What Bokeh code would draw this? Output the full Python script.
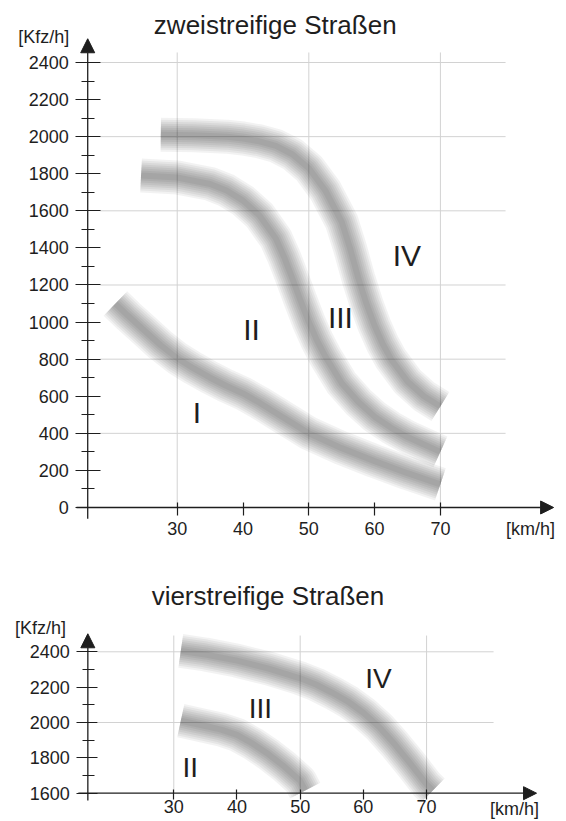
from bokeh.plotting import figure
from bokeh.layouts import column
from bokeh.models import Range1d, LinearAxis, FixedTicker, Arrow, NormalHead, Label
from bokeh.core.properties import value
from bokeh.embed import file_html
from bokeh.resources import INLINE

FONT = "Liberation Sans"
INK = "#1e1e1e"

# ---------------- data: zweistreifige Straßen ----------------
top_title = "zweistreifige Straßen"
speed_ticks = [30, 40, 50, 60, 70]
grid_speeds = [30, 50, 70]
top_flow_ticks = [0, 200, 400, 600, 800, 1000, 1200, 1400, 1600, 1800, 2000, 2200, 2400]
top_flow_minor = [100, 300, 500, 700, 900, 1100, 1300, 1500, 1700, 1900, 2100, 2300]
top_grid_flows = [400, 800, 1200, 1600, 2000, 2400]

top_c1_speed = [20.6, 22.5, 25, 27.5, 30, 32.5, 35, 37.5, 40, 42.5, 45, 47.5, 50, 55, 60, 65, 70]
top_c1_flow = [1100, 1035, 955, 875, 805, 750, 700, 655, 615, 565, 510, 455, 400, 320, 250, 185, 125]
top_c2_speed = [24.5, 30, 35, 37.5, 40, 42.5, 45, 46.25, 47.5, 48.75, 50, 51.25, 52.5, 55,
                57.5, 60, 62.5, 65, 67.5, 70]
top_c2_flow = [1790, 1780, 1745, 1710, 1655, 1575, 1450, 1350, 1235, 1115, 1000, 900, 815, 670,
               570, 490, 430, 380, 340, 300]
top_c3_speed = [27.5, 32.5, 37.5, 40, 42.5, 45, 47.5, 50, 52.5, 55, 56.25, 57.5, 58.75, 60,
                61.25, 62.5, 65, 67.5, 70]
top_c3_flow = [2010, 2008, 2000, 1990, 1975, 1950, 1905, 1830, 1710, 1540, 1400, 1240, 1100, 980,
               880, 800, 680, 600, 545]

top_region_text = ["I", "II", "III", "IV"]
top_region_speed = [33.0, 41.3, 54.8, 64.9]
top_region_flow = [514, 960, 1026, 1359]

# ---------------- data: vierstreifige Straßen ----------------
bot_title = "vierstreifige Straßen"
bot_flow_ticks = [1600, 1800, 2000, 2200, 2400]
bot_flow_minor = [1700, 1900, 2100, 2300]
bot_grid_flows = [2000, 2400]

bot_c1_speed = [31.1, 35, 37.5, 40, 42.5, 45, 47.5, 50, 50.8]
bot_c1_flow = [2010, 1980, 1960, 1930, 1880, 1820, 1750, 1670, 1615]
bot_c2_speed = [31.1, 35, 40, 45, 50, 52.5, 55, 57.5, 60, 62.5, 65, 67.5, 70, 71]
bot_c2_flow = [2405, 2385, 2350, 2305, 2250, 2215, 2170, 2120, 2055, 1975, 1875, 1765, 1650, 1615]

bot_region_text = ["II", "III", "IV"]
bot_region_speed = [32.6, 43.7, 62.4]
bot_region_flow = [1747, 2077, 2247]

unit_y = "[Kfz/h]"
unit_x = "[km/h]"

BAND_WIDTHS = [34, 30, 26, 22, 18, 14, 10, 6]
BAND_ALPHA = 0.05


def band(p, xs, ys):
    for w in BAND_WIDTHS:
        p.line(xs, ys, line_color="black", line_alpha=BAND_ALPHA, line_width=w,
               line_cap="butt", line_join="round")


def make_chart(height, xr, yr, axis_x, x_axis_y, flow_ticks, flow_minor,
               grid_flows, grid_x0, grid_x1, grid_y0, grid_y1,
               y_arrow, x_arrow, tick_sizes, x_standoff):
    p = figure(width=566, height=height, x_range=Range1d(*xr), y_range=Range1d(*yr),
               output_backend="svg", toolbar_location=None,
               x_axis_type=None, y_axis_type=None, min_border=0,
               outline_line_color=None, background_fill_color="white")
    # grid
    p.segment(x0=grid_speeds, x1=grid_speeds, y0=[grid_y0] * len(grid_speeds),
              y1=[grid_y1] * len(grid_speeds), line_color="#d2d2d2", line_width=1)
    p.segment(x0=[grid_x0] * len(grid_flows), x1=[grid_x1] * len(grid_flows),
              y0=grid_flows, y1=grid_flows, line_color="#d2d2d2", line_width=1)

    maj_in, maj_out, min_in, min_out, xt_in, xt_out = tick_sizes
    yax = LinearAxis(fixed_location=axis_x,
                     ticker=FixedTicker(ticks=flow_ticks, minor_ticks=flow_minor),
                     axis_line_color=None,
                     major_tick_in=maj_in, major_tick_out=maj_out,
                     minor_tick_in=min_in, minor_tick_out=min_out,
                     major_tick_line_color=INK, minor_tick_line_color=INK,
                     major_tick_line_width=1.2, minor_tick_line_width=1.2,
                     major_label_standoff=7,
                     major_label_text_font=FONT, major_label_text_font_size="18px",
                     major_label_text_color=INK)
    p.add_layout(yax, "left")
    xax = LinearAxis(fixed_location=x_axis_y,
                     ticker=FixedTicker(ticks=speed_ticks, minor_ticks=[]),
                     axis_line_color=None,
                     major_tick_in=xt_in, major_tick_out=xt_out,
                     minor_tick_line_color=None,
                     major_tick_line_color=INK, major_tick_line_width=1.2,
                     major_label_standoff=x_standoff,
                     major_label_text_font=FONT, major_label_text_font_size="18px",
                     major_label_text_color=INK)
    p.add_layout(xax, "below")

    ys0, ys1, hs = y_arrow
    p.add_layout(Arrow(end=NormalHead(size=hs, fill_color=INK, line_color=INK),
                       x_start=axis_x, y_start=ys0, x_end=axis_x, y_end=ys1,
                       line_color=INK, line_width=1.3))
    xs0, xs1, hx = x_arrow
    p.add_layout(Arrow(end=NormalHead(size=hx, fill_color=INK, line_color=INK),
                       x_start=xs0, y_start=x_axis_y, x_end=xs1, y_end=x_axis_y,
                       line_color=INK, line_width=1.3))
    return p


# ---------------- top chart ----------------
p1 = make_chart(565, (3.146, 89.16), (-312.8, 2734.3), 16.4, 0,
                top_flow_ticks, top_flow_minor, top_grid_flows,
                18.3, 79.9, 0, 2454,
                (-60, 2528, 14), (14.7, 87.2, 13), (13, 12, 7, 6, 5, 8), 7)
band(p1, top_c1_speed, top_c1_flow)
band(p1, top_c2_speed, top_c2_flow)
band(p1, top_c3_speed, top_c3_flow)
p1.text(x=top_region_speed, y=top_region_flow, text=top_region_text,
        text_font=value(FONT), text_font_size="30px", text_color=INK,
        text_align="center", text_baseline="middle")
p1.add_layout(Label(x=44.9, y=2599.5, text=top_title, text_align="center",
                    text_baseline="middle", text_font=FONT, text_font_size="26px",
                    text_color=INK))
p1.add_layout(Label(x=9.73, y=2540, text=unit_y, text_align="center",
                    text_baseline="middle", text_font=FONT, text_font_size="18px",
                    text_color=INK))
p1.add_layout(Label(x=83.7, y=-115, text=unit_x, text_align="center",
                    text_baseline="middle", text_font=FONT, text_font_size="18px",
                    text_color=INK))

# ---------------- bottom chart ----------------
p2 = make_chart(256, (2.58, 92.14), (1439.9, 2888.3), 16.4, 1600,
                bot_flow_ticks, bot_flow_minor, bot_grid_flows,
                18.0, 80.6, 1600, 2492,
                (1559, 2502, 14), (14.9, 87.4, 13), (10, 11, 7, 5, 4, 6), 1)
band(p2, bot_c1_speed, bot_c1_flow)
band(p2, bot_c2_speed, bot_c2_flow)
p2.text(x=bot_region_speed, y=bot_region_flow, text=bot_region_text,
        text_font=value(FONT), text_font_size="28px", text_color=INK,
        text_align="center", text_baseline="middle")
p2.add_layout(Label(x=44.9, y=2718.5, text=bot_title, text_align="center",
                    text_baseline="middle", text_font=FONT, text_font_size="26px",
                    text_color=INK))
p2.add_layout(Label(x=8.9, y=2537.5, text=unit_y, text_align="center",
                    text_baseline="middle", text_font=FONT, text_font_size="18px",
                    text_color=INK))
p2.add_layout(Label(x=83.9, y=1513.4, text=unit_x, text_align="center",
                    text_baseline="middle", text_font=FONT, text_font_size="18px",
                    text_color=INK))

layout = column(p1, p2, spacing=0)
open("out.html", "w").write(file_html(layout, INLINE))
